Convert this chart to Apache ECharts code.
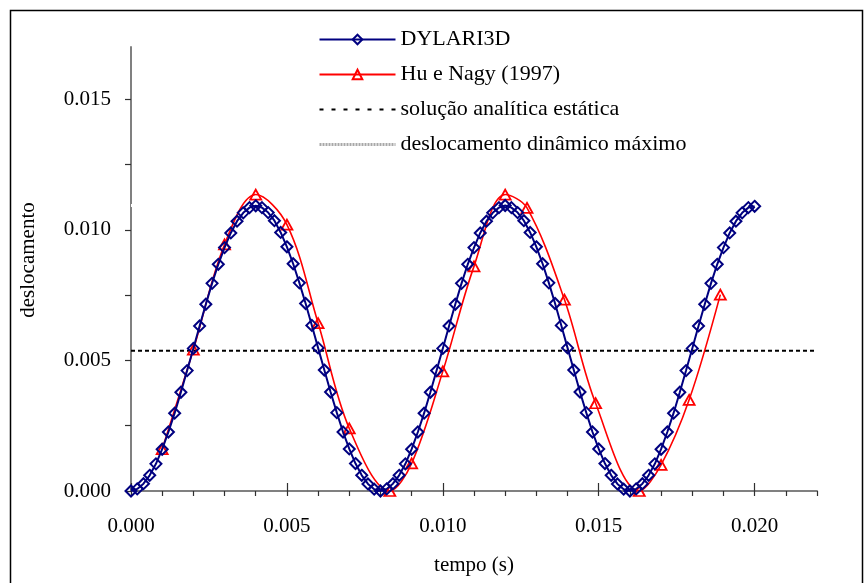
<!DOCTYPE html>
<html>
<head>
<meta charset="utf-8">
<script src="https://cdn.jsdelivr.net/npm/echarts@6/dist/echarts.min.js"></script>
<style>
html,body{margin:0;padding:0;background:#fff;}
#chart{width:868px;height:583px;}
</style>
</head>
<body>
<div id="chart"></div>
<script>
// ---- data ----
const seriesNames = ['DYLARI3D', 'Hu e Nagy (1997)', 'solução analítica estática', 'deslocamento dinâmico máximo'];

const dylTime = [
  0.0000,0.0002,0.0004,0.0006,0.0008,0.0010,0.0012,0.0014,0.0016,0.0018,
  0.0020,0.0022,0.0024,0.0026,0.0028,0.0030,0.0032,0.0034,0.0036,0.0038,
  0.0040,0.0042,0.0044,0.0046,0.0048,0.0050,0.0052,0.0054,0.0056,0.0058,
  0.0060,0.0062,0.0064,0.0066,0.0068,0.0070,0.0072,0.0074,0.0076,0.0078,
  0.0080,0.0082,0.0084,0.0086,0.0088,0.0090,0.0092,0.0094,0.0096,0.0098,
  0.0100,0.0102,0.0104,0.0106,0.0108,0.0110,0.0112,0.0114,0.0116,0.0118,
  0.0120,0.0122,0.0124,0.0126,0.0128,0.0130,0.0132,0.0134,0.0136,0.0138,
  0.0140,0.0142,0.0144,0.0146,0.0148,0.0150,0.0152,0.0154,0.0156,0.0158,
  0.0160,0.0162,0.0164,0.0166,0.0168,0.0170,0.0172,0.0174,0.0176,0.0178,
  0.0180,0.0182,0.0184,0.0186,0.0188,0.0190,0.0192,0.0194,0.0196,0.0198,
  0.0200
];
const dylDisp = [
  0.00000,0.00008,0.00028,0.00060,0.00104,0.00160,0.00226,0.00298,0.00378,0.00461,
  0.00546,0.00632,0.00715,0.00795,0.00868,0.00932,0.00988,0.01033,0.01065,0.01085,
  0.01092,0.01085,0.01066,0.01035,0.00990,0.00935,0.00870,0.00797,0.00718,0.00634,
  0.00548,0.00463,0.00379,0.00300,0.00226,0.00161,0.00105,0.00060,0.00027,0.00007,
  0.00000,0.00008,0.00028,0.00060,0.00104,0.00160,0.00226,0.00298,0.00378,0.00461,
  0.00546,0.00632,0.00715,0.00795,0.00868,0.00932,0.00988,0.01033,0.01065,0.01085,
  0.01093,0.01085,0.01066,0.01035,0.00990,0.00935,0.00870,0.00797,0.00718,0.00634,
  0.00548,0.00463,0.00379,0.00300,0.00226,0.00161,0.00105,0.00060,0.00027,0.00007,
  0.00000,0.00008,0.00028,0.00060,0.00104,0.00160,0.00226,0.00298,0.00378,0.00461,
  0.00546,0.00632,0.00715,0.00795,0.00868,0.00932,0.00988,0.01033,0.01065,0.01085,
  0.01090
];

const huTime = [0.0010,0.0020,0.0030,0.0040,0.0050,0.0060,0.0070,0.0083,0.0090,0.0100,
                0.0110,0.0120,0.0127,0.0139,0.0149,0.0163,0.0170,0.0179,0.0189];
const huDisp = [0.00160,0.00541,0.00944,0.01135,0.01020,0.00643,0.00240,0.00000,0.00106,0.00458,
                0.00860,0.01135,0.01084,0.00733,0.00336,0.00000,0.00100,0.00349,0.00752];

const staticTime = [0, 0.022];
const staticDisp = [0.00537, 0.00537];
const maxDynTime = [0, 0.022];
const maxDynDisp = [0.01093, 0.01093];

const xLabelValues = [0, 0.005, 0.010, 0.015, 0.020];
const xMinorTickValues = [0,0.001,0.002,0.003,0.004,0.005,0.006,0.007,0.008,0.009,0.010,0.011,
                          0.012,0.013,0.014,0.015,0.016,0.017,0.018,0.019,0.020,0.021,0.022];
const yLabelValues = [0, 0.005, 0.010, 0.015];
const yTickValues = [0, 0.0025, 0.005, 0.0075, 0.010, 0.0125, 0.015];

const xTitle = 'tempo (s)';
const yTitle = 'deslocamento';

// ---- chart ----
const FONT = '"Liberation Serif", "Times New Roman", serif';
const zip = (a, b) => a.map((v, i) => [v, b[i]]);
const chart = echarts.init(document.getElementById('chart'), null, {renderer: 'canvas'});

chart.setOption({
  animation: false,
  backgroundColor: '#ffffff',
  textStyle: {fontFamily: FONT, color: '#000'},
  graphic: [{
    type: 'rect', left: 8, top: 8, z: 100, silent: true,
    shape: {width: 852, height: 600},
    style: {fill: 'none', stroke: '#000', lineWidth: 1.5}
  }],
  grid: {left: 131, right: 51, top: 47, bottom: 92, containLabel: false},
  legend: {
    orient: 'vertical', left: 313, top: 22,
    itemWidth: 76, itemHeight: 12, itemGap: 10,
    textStyle: {fontFamily: FONT, fontSize: 22, color: '#000', lineHeight: 25},
    data: [
      {name: seriesNames[0]},
      {name: seriesNames[1]},
      {name: seriesNames[2], itemStyle: {opacity: 0}, lineStyle: {color: '#000', type: [4, 8], width: 2}},
      {name: seriesNames[3], itemStyle: {opacity: 0}, lineStyle: {color: '#a8a8a8', type: [2, 1], width: 3}}
    ]
  },
  xAxis: [{
    type: 'value', min: 0, max: 0.022,
    name: xTitle, nameLocation: 'middle', nameGap: 64,
    nameTextStyle: {fontFamily: FONT, fontSize: 21, color: '#000'},
    axisLine: {show: true, onZero: false, lineStyle: {color: '#808080', width: 2}},
    axisTick: {show: true, inside: true, length: 8, customValues: xLabelValues, lineStyle: {color: '#303030', width: 1.2}},
    axisLabel: {show: true, customValues: xLabelValues, margin: 25, fontFamily: FONT, fontSize: 21, color: '#000',
                formatter: v => v.toFixed(3)},
    splitLine: {show: false}
  }, {
    type: 'value', min: 0, max: 0.022, position: 'bottom', offset: 0,
    axisLine: {show: false},
    axisTick: {show: true, inside: false, length: 5, customValues: xMinorTickValues, lineStyle: {color: '#303030', width: 1.2}},
    axisLabel: {show: false},
    splitLine: {show: false}
  }],
  yAxis: {
    type: 'value', min: 0, max: 0.017,
    name: yTitle, nameLocation: 'middle', nameGap: 92, nameRotate: 90,
    nameTextStyle: {fontFamily: FONT, fontSize: 21, color: '#000', padding: [0, 0, 0, 18]},
    axisLine: {show: true, onZero: false, lineStyle: {color: '#808080', width: 2}},
    axisTick: {show: true, inside: false, length: 6, customValues: yTickValues, lineStyle: {color: '#303030', width: 1.2}},
    axisLabel: {show: true, customValues: yLabelValues, margin: 20, fontFamily: FONT, fontSize: 21, color: '#000',
                formatter: v => v.toFixed(3)},
    splitLine: {show: false}
  },
  series: [
    {
      name: seriesNames[3], type: 'line', data: zip(maxDynTime, maxDynDisp),
      symbol: 'none', z: 1,
      lineStyle: {color: '#ffffff', width: 3},
      itemStyle: {color: '#a8a8a8'}
    },
    {
      name: seriesNames[2], type: 'line', data: zip(staticTime, staticDisp),
      symbol: 'none', z: 2,
      lineStyle: {color: '#000', width: 2, type: [4, 3]},
      itemStyle: {color: '#000'}
    },
    {
      name: seriesNames[1], type: 'line', data: zip(huTime, huDisp),
      smooth: 0.35, symbol: 'triangle', symbolSize: [11, 10], z: 3,
      lineStyle: {color: '#ff0000', width: 1.6},
      itemStyle: {color: 'rgba(255,255,255,0)', borderColor: '#ff0000', borderWidth: 1.8}
    },
    {
      name: seriesNames[0], type: 'line', data: zip(dylTime, dylDisp),
      symbol: 'diamond', symbolSize: 11, showAllSymbol: true, z: 4,
      lineStyle: {color: '#000080', width: 2},
      itemStyle: {color: 'rgba(255,255,255,0)', borderColor: '#000080', borderWidth: 2}
    }
  ]
});
</script>
</body>
</html>
